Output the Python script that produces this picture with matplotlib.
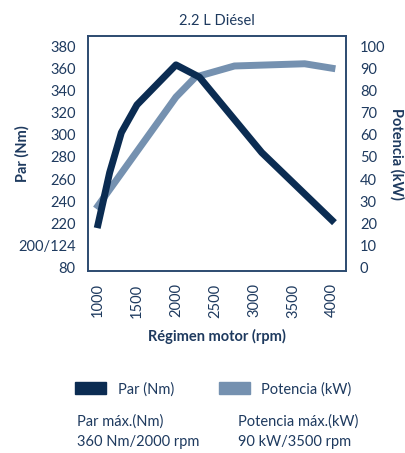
import matplotlib
matplotlib.use("Agg")
import matplotlib.pyplot as plt
from matplotlib.patches import Patch

plt.rcParams['font.family'] = ['Lato', 'DejaVu Sans']

# datos
rpm_par = [1000, 1150, 1300, 1500, 2000, 2300, 3100, 4000]
par_nm = [219, 266, 302, 327, 363, 352, 284, 223]
rpm_pot = [1000, 2000, 2250, 2750, 3650, 4000]
pot_kw = [28, 77, 86, 91, 92, 90]

x_ticks = [1000, 1500, 2000, 2500, 3000, 3500, 4000]
y_ticks = [180, 200, 220, 240, 260, 280, 300, 320, 340, 360, 380]
y_labels = ['80', '200/124', '220', '240', '260', '280', '300', '320', '340', '360', '380']
y2_ticks = [0, 10, 20, 30, 40, 50, 60, 70, 80, 90, 100]

navy = '#0b2c52'
light = '#7591b0'
txt = '#1e3a5f'
frame = '#2c4a70'

fig = plt.figure(figsize=(4.06, 4.53), dpi=100)
ax = fig.add_axes([0.2167, 0.4018, 0.6355, 0.5187])
ax2 = ax.twinx()

ax2.plot(rpm_pot, pot_kw, color=light, lw=5, solid_joinstyle='miter', zorder=1)
ax.plot(rpm_par, par_nm, color=navy, lw=5, solid_joinstyle='round', zorder=2)
ax.set_zorder(ax2.get_zorder() + 1)
ax.patch.set_visible(False)

ax.set_xlim(872, 4180)
ax.set_ylim(177.3, 389)
ax2.set_ylim((177.3 - 180) / 2, (389 - 180) / 2)

ax.set_xticks(x_ticks)
ax.set_xticklabels([str(t) for t in x_ticks], rotation=90)
ax.set_yticks(y_ticks)
ax.set_yticklabels(y_labels)
ax2.set_yticks(y2_ticks)

for a in (ax, ax2):
    a.tick_params(length=0, labelsize=10.5, labelcolor=txt)
    for s in a.spines.values():
        s.set_color(frame)
        s.set_linewidth(1.2)
ax.tick_params(axis='y', pad=9)
ax.tick_params(axis='x', pad=9)
ax2.tick_params(axis='y', pad=10)

ax.set_title('2.2 L Diésel', fontsize=10.5, color=txt, pad=8)
ax.set_xlabel('Régimen motor (rpm)', fontsize=10.5, fontweight='bold', color=txt, labelpad=8)
ax.set_ylabel('Par (Nm)', fontsize=10.5, fontweight='bold', color=txt)
ax.yaxis.set_label_coords(-0.225, 0.5)
ax2.set_ylabel('Potencia (kW)', fontsize=10.5, fontweight='bold', color=txt, rotation=-90, va='center')
ax2.yaxis.set_label_coords(1.198, 0.5)

handles = [Patch(color=navy, label='Par (Nm)'), Patch(color=light, label='Potencia (kW)')]
fig.legend(handles=handles, loc='center left', bbox_to_anchor=(0.153, 0.141), ncol=2,
           frameon=False, fontsize=10.5, labelcolor=txt, handlelength=2.1,
           handleheight=0.9, handletextpad=0.8, columnspacing=3.1)

fig.text(0.19, 0.07, 'Par máx.(Nm)', fontsize=10.5, color=txt, va='center')
fig.text(0.19, 0.024, '360 Nm/2000 rpm', fontsize=10.5, color=txt, va='center')
fig.text(0.586, 0.07, 'Potencia máx.(kW)', fontsize=10.5, color=txt, va='center')
fig.text(0.586, 0.024, '90 kW/3500 rpm', fontsize=10.5, color=txt, va='center')

fig.savefig('out.png', dpi=100)
